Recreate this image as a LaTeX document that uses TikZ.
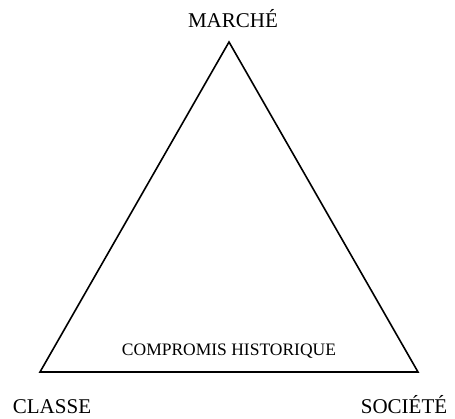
\documentclass[tikz,border=0pt]{standalone}
\usepackage{fontspec}
\setmainfont{Liberation Serif}
\usetikzlibrary{positioning}
\tikzset{
  corner/.style={font=\fontsize{21}{24}\selectfont, inner sep=0pt},
  side/.style={line width=1.6pt, line join=miter}
}
\begin{document}
\begin{tikzpicture}[x=1pt, y=-1pt]
    \useasboundingbox (0,0) rectangle (455,419);
    % Corners of the triangle
    \coordinate (top) at (229, 42);
    \coordinate (left) at (40, 372);
    \coordinate (right) at (418, 372);

    % Sides
    \draw[side] (top) -- (left) -- (right) -- cycle;

    % Corner labels
    \node[corner] (marche) at (233, 19) {MARCHÉ};
    \node[corner] (classe) at (52, 407) {CLASSE};
    \node[corner] (societe) at (404, 405) {SOCIÉTÉ};

    % Inner label
    \node[font=\fontsize{17.5}{20}\selectfont, inner sep=0pt] (compromis) at (229, 351) {COMPROMIS HISTORIQUE};
\end{tikzpicture}
\end{document}
